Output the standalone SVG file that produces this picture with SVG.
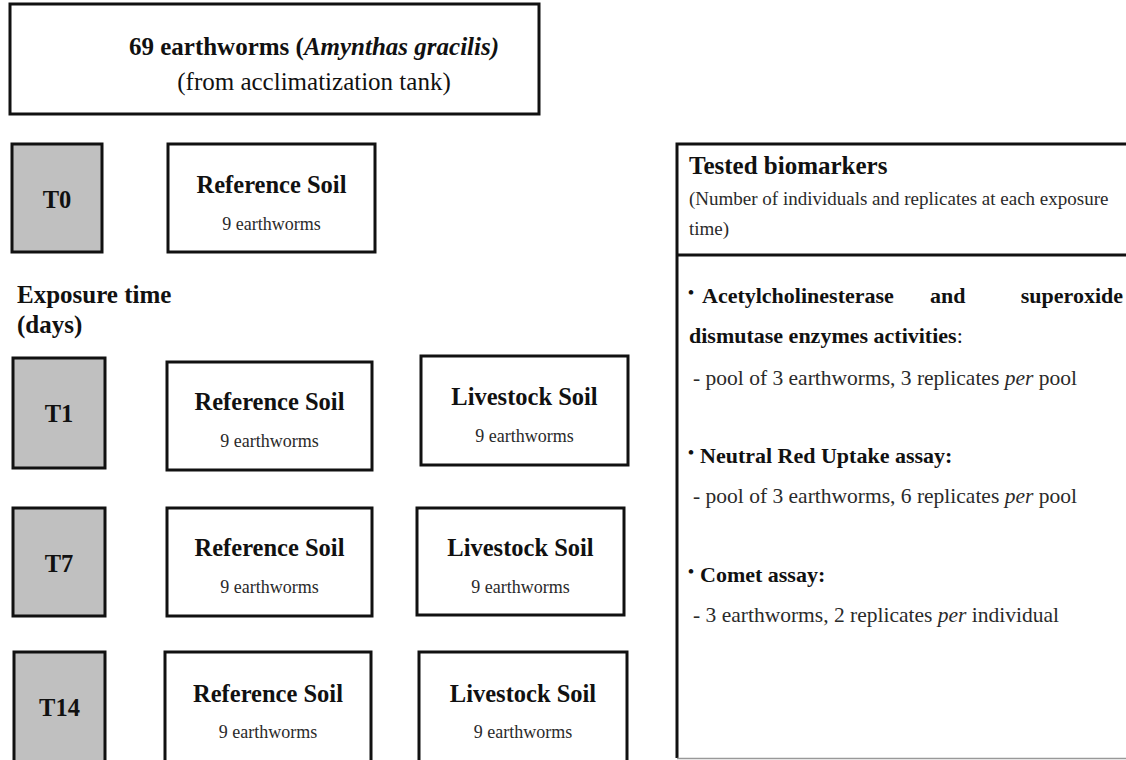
<svg xmlns="http://www.w3.org/2000/svg" width="1126" height="760" viewBox="0 0 1126 760">
<style>
  text { font-family: "Liberation Serif", "Times New Roman", serif; fill: #111; }
  .box { fill: #fff; stroke: #111; stroke-width: 3; }
  .tbox { fill: #c0c0c0; stroke: #111; stroke-width: 3; }
  .big { font-size: 25px; font-weight: bold; }
  .lbl { font-size: 24.5px; font-weight: bold; text-anchor: middle; }
  .sub { font-size: 18px; text-anchor: middle; fill: #2a2a2a; }
  .head { font-size: 25px; font-weight: bold; }
  .note { font-size: 19px; fill: #2a2a2a; }
  .item { font-size: 22px; font-weight: bold; }
  .bul { font-size: 17px; font-weight: bold; }
  .det { font-size: 21.5px; fill: #2a2a2a; }
</style>
<rect width="1126" height="760" fill="#fff"/>

<g id="source">
  <rect class="box" x="10" y="4" width="529" height="110"/>
  <text class="big" x="314" y="55" text-anchor="middle">69 earthworms (<tspan font-style="italic">Amynthas gracilis)</tspan></text>
  <text x="314" y="90" text-anchor="middle" font-size="25" fill="#2a2a2a">(from acclimatization tank)</text>
</g>

<g id="t0">
  <rect class="tbox" x="12" y="144" width="90" height="108"/>
  <text class="lbl" x="57" y="208">T0</text>
</g>
<g id="t0-ref">
  <rect class="box" x="168" y="144" width="207" height="108"/>
  <text class="lbl" x="271.5" y="193">Reference Soil</text>
  <text class="sub" x="271.5" y="230">9 earthworms</text>
</g>

<g id="exposure-label">
  <text class="head" x="17" y="303">Exposure time</text>
  <text class="head" x="17" y="333">(days)</text>
</g>

<g id="t1">
  <rect class="tbox" x="13" y="358" width="92" height="110"/>
  <text class="lbl" x="59" y="422">T1</text>
</g>
<g id="t1-ref">
  <rect class="box" x="167" y="362" width="205" height="108"/>
  <text class="lbl" x="269.5" y="410">Reference Soil</text>
  <text class="sub" x="269.5" y="447">9 earthworms</text>
</g>
<g id="t1-live">
  <rect class="box" x="421" y="356" width="207" height="109"/>
  <text class="lbl" x="524.5" y="405">Livestock Soil</text>
  <text class="sub" x="524.5" y="442">9 earthworms</text>
</g>

<g id="t7">
  <rect class="tbox" x="13" y="508" width="92" height="108"/>
  <text class="lbl" x="59" y="572">T7</text>
</g>
<g id="t7-ref">
  <rect class="box" x="167" y="508" width="205" height="108"/>
  <text class="lbl" x="269.5" y="556">Reference Soil</text>
  <text class="sub" x="269.5" y="593">9 earthworms</text>
</g>
<g id="t7-live">
  <rect class="box" x="417" y="508" width="207" height="107"/>
  <text class="lbl" x="520.5" y="556">Livestock Soil</text>
  <text class="sub" x="520.5" y="593">9 earthworms</text>
</g>

<g id="t14">
  <rect class="tbox" x="14" y="652" width="91" height="120"/>
  <text class="lbl" x="59.5" y="716">T14</text>
</g>
<g id="t14-ref">
  <rect class="box" x="165" y="652" width="206" height="120"/>
  <text class="lbl" x="268" y="702">Reference Soil</text>
  <text class="sub" x="268" y="738">9 earthworms</text>
</g>
<g id="t14-live">
  <rect class="box" x="419" y="652" width="208" height="120"/>
  <text class="lbl" x="523" y="702">Livestock Soil</text>
  <text class="sub" x="523" y="738">9 earthworms</text>
</g>

<g id="biomarkers">
  <rect x="677" y="144" width="460" height="614" fill="#fff"/>
  <path d="M1130 144 H677 V758" fill="none" stroke="#111" stroke-width="3"/>
  <line x1="677" y1="758.5" x2="1126" y2="758.5" stroke="#999" stroke-width="1.5"/>
  <line x1="677" y1="255" x2="1130" y2="255" stroke="#111" stroke-width="3"/>
  <text class="head" x="689" y="174">Tested biomarkers</text>
  <text class="note" x="689" y="205">(Number of individuals and replicates at each exposure</text>
  <text class="note" x="689" y="235">time)</text>

  <text class="bul" x="688" y="298">•</text>
  <text class="item" x="702" y="303">Acetylcholinesterase</text>
  <text class="item" x="930" y="303">and</text>
  <text class="item" x="1123" y="303" text-anchor="end">superoxide</text>
  <text class="item" x="689" y="343">dismutase enzymes activities<tspan font-weight="normal">:</tspan></text>
  <text class="det" x="693" y="385">- pool of 3 earthworms,  3 replicates <tspan font-style="italic">per</tspan> pool</text>

  <text class="bul" x="688" y="458">•</text>
  <text class="item" x="700" y="463">Neutral Red Uptake assay:</text>
  <text class="det" x="693" y="503">- pool of 3 earthworms,  6 replicates <tspan font-style="italic">per</tspan> pool</text>

  <text class="bul" x="688" y="577">•</text>
  <text class="item" x="700" y="582">Comet assay:</text>
  <text class="det" x="693" y="622">- 3 earthworms,  2 replicates  <tspan font-style="italic">per</tspan> individual</text>
</g>

<g id="connectors"/>
</svg>
